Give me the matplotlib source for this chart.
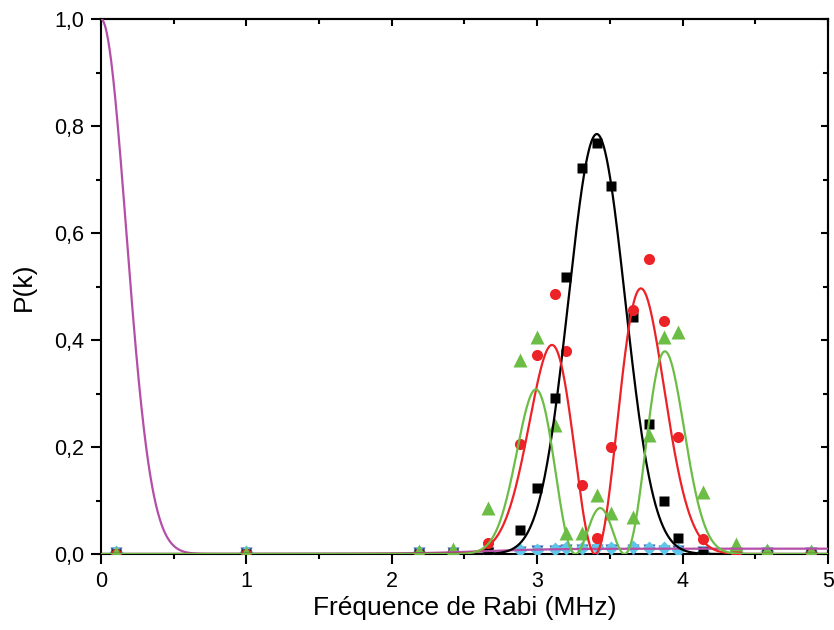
import numpy as np
import matplotlib
matplotlib.use("Agg")
import matplotlib.pyplot as plt
from matplotlib.ticker import FuncFormatter, MultipleLocator

plt.rcParams['font.family'] = ['Liberation Sans', 'DejaVu Sans']

# Measured populations P(k) versus Rabi frequency (MHz)
freq = [0.10, 1.00, 2.19, 2.42, 2.66, 2.88, 3.00, 3.12, 3.20, 3.31,
        3.41, 3.51, 3.66, 3.77, 3.87, 3.97, 4.14, 4.37, 4.58, 4.88]
p_k0 = [0.0, 0.0, 0.0, 0.0, 0.003, 0.045, 0.123, 0.292, 0.518, 0.721,
        0.768, 0.688, 0.443, 0.243, 0.100, 0.030, 0.004, 0.0, 0.0, 0.0]
p_k1 = [0.0, 0.0, 0.0, 0.002, 0.020, 0.206, 0.372, 0.486, 0.380, 0.129,
        0.030, 0.200, 0.456, 0.551, 0.436, 0.219, 0.028, 0.003, 0.0, 0.0]
p_k2 = [0.002, 0.002, 0.005, 0.009, 0.086, 0.363, 0.406, 0.241, 0.040, 0.040,
        0.110, 0.077, 0.070, 0.222, 0.406, 0.415, 0.115, 0.019, 0.008, 0.005]
p_k3 = [0.001, 0.001, 0.001, 0.001, 0.002, 0.004, 0.005, 0.006, 0.007, 0.007,
        0.007, 0.007, 0.007, 0.007, 0.006, 0.005, 0.003, 0.002, 0.002, 0.002]
p_k4 = [0.004, 0.004, 0.003, 0.003, 0.004, 0.008, 0.008, 0.010, 0.012, 0.012,
        0.013, 0.012, 0.013, 0.012, 0.011, 0.008, 0.004, 0.003, 0.005, 0.004]

# Fitted model parameters
# k=0: single Gaussian peak
k0_height, k0_center, k0_sigma = 0.785, 3.41, 0.195
# k=1 and k=2: squared sums of Gaussian amplitudes with alternating sign
k1_amp = [0.912, -0.982]
k1_center = [3.225, 3.603]
k1_sigma = 0.20
k2_amp = [0.6185, -0.504, 0.686]
k2_center = [3.03, 3.44, 3.84]
k2_sigma = 0.15
# zero-frequency peak with a small residual plateau
zero_height, zero_sigma = 1.0, 0.173
plateau_height, plateau_center, plateau_width = 0.010, 2.6, 0.25

x = np.linspace(0, 5, 1500)


def gauss_peak(x, h, c, s):
    return h * np.exp(-(x - c) ** 2 / (2 * s ** 2))


def interference(x, amps, centers, s):
    psi = sum(a * np.exp(-(x - c) ** 2 / (4 * s ** 2)) for a, c in zip(amps, centers))
    return psi ** 2


fit_k0 = gauss_peak(x, k0_height, k0_center, k0_sigma)
fit_k1 = interference(x, k1_amp, k1_center, k1_sigma)
fit_k2 = interference(x, k2_amp, k2_center, k2_sigma)
fit_zero = gauss_peak(x, zero_height, 0.0, zero_sigma) + \
    plateau_height / (1 + np.exp(-(x - plateau_center) / plateau_width))

black = '#000000'
red = '#ec2227'
green = '#6cbd45'
purple = '#b54ea6'
cyan = '#5ec6e8'
navy = '#3a5cad'

fig = plt.figure(figsize=(8.34, 6.30), dpi=100)
ax = fig.add_axes([0.1211, 0.1206, 0.8717, 0.8492])

ax.plot(freq, p_k3, 'v', color=navy, ms=8, mec='none', zorder=3)
ax.plot(freq, p_k4, 'D', color=cyan, ms=7.5, mec='none', zorder=3)
ax.plot(freq, p_k0, 's', color=black, ms=7.2, mec='none', zorder=4)
ax.plot(freq, p_k1, 'o', color=red, ms=8, mec='none', zorder=4)
ax.plot(freq, p_k2, '^', color=green, ms=9.5, mec='none', zorder=4)

ax.plot(x, fit_zero, color=purple, lw=1.6, zorder=5)
ax.plot(x, fit_k0, color=black, lw=1.6, zorder=5)
ax.plot(x, fit_k1, color=red, lw=1.6, zorder=5)
ax.plot(x, fit_k2, color=green, lw=1.6, zorder=5)

ax.set_xlim(0, 5)
ax.set_ylim(0, 1.0)
ax.xaxis.set_major_locator(MultipleLocator(1))
ax.xaxis.set_minor_locator(MultipleLocator(0.5))
ax.yaxis.set_major_locator(MultipleLocator(0.2))
ax.yaxis.set_minor_locator(MultipleLocator(0.1))
ax.xaxis.set_major_formatter(FuncFormatter(lambda v, p: f"{v:.0f}"))
ax.yaxis.set_major_formatter(FuncFormatter(lambda v, p: f"{v:.1f}".replace('.', ',')))

for s in ax.spines.values():
    s.set_linewidth(1.5)

ax.tick_params(which='both', direction='out', width=1.5, labelsize=15.5,
               top=False, right=False)
ax.tick_params(which='major', length=7, pad=5)
ax.tick_params(which='minor', length=3.6)

# inward mirror ticks on top and right
sec_x = ax.secondary_xaxis('top')
sec_x.xaxis.set_major_locator(MultipleLocator(1))
sec_x.xaxis.set_minor_locator(MultipleLocator(0.5))
sec_x.tick_params(which='both', direction='in', width=1.5, labeltop=False)
sec_x.tick_params(which='major', length=5)
sec_x.tick_params(which='minor', length=3.6)
sec_x.spines['top'].set_linewidth(1.5)
sec_y = ax.secondary_yaxis('right')
sec_y.yaxis.set_major_locator(MultipleLocator(0.2))
sec_y.yaxis.set_minor_locator(MultipleLocator(0.1))
sec_y.tick_params(which='both', direction='in', width=1.5, labelright=False)
sec_y.tick_params(which='major', length=5)
sec_y.tick_params(which='minor', length=3.6)
sec_y.spines['right'].set_linewidth(1.5)

ax.set_xlabel('Fréquence de Rabi (MHz)', fontsize=19, labelpad=3)
ax.set_ylabel('P(k)', fontsize=19, labelpad=13)

fig.savefig('out.png', dpi=100)
